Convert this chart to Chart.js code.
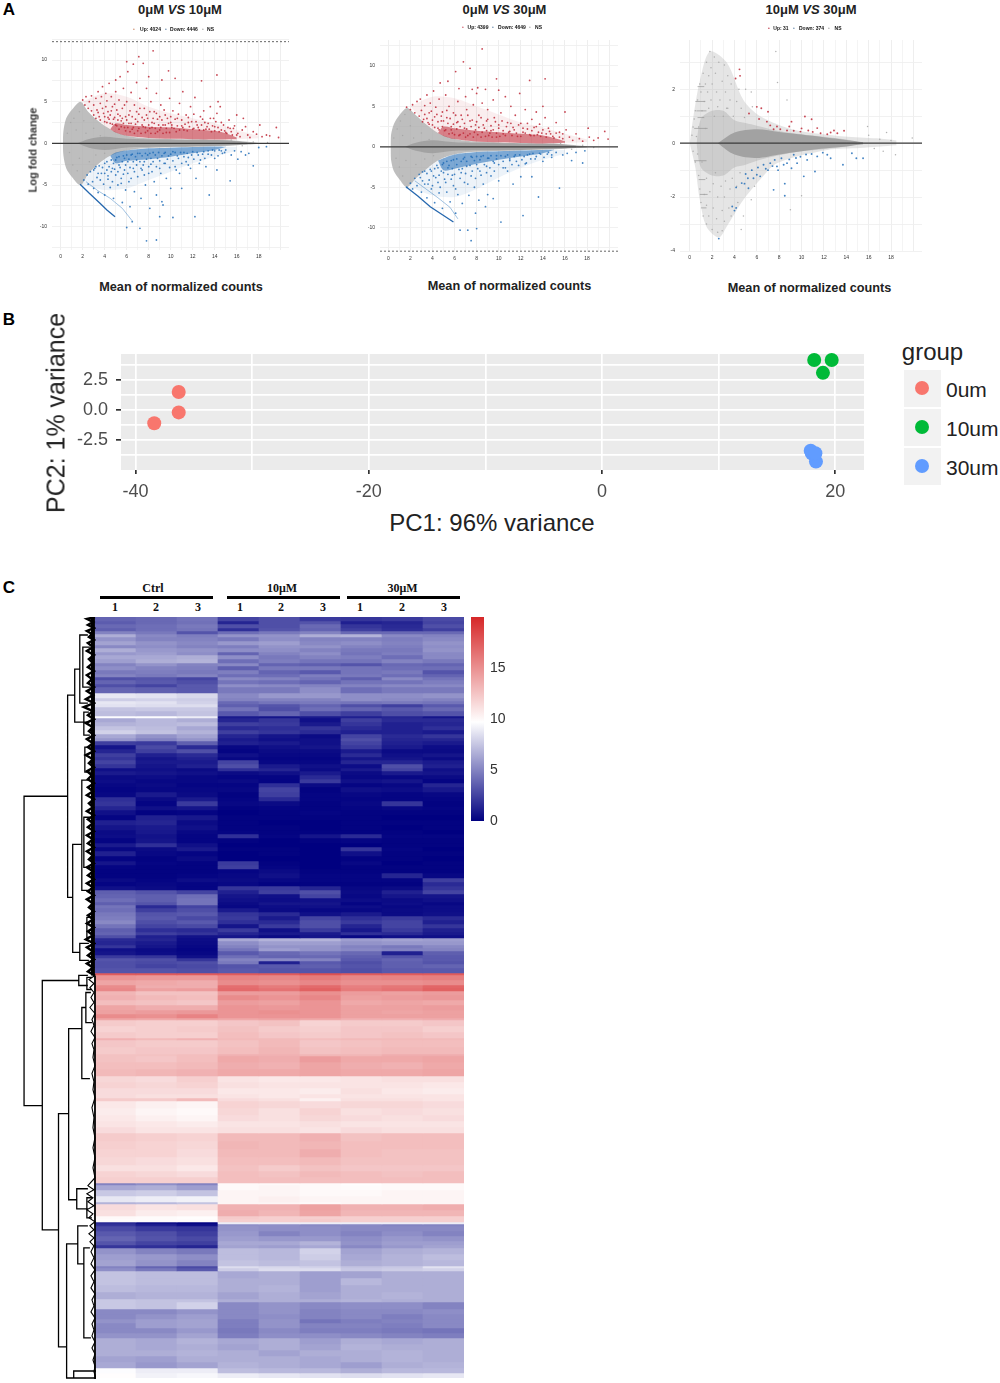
<!DOCTYPE html>
<html><head><meta charset="utf-8">
<script src="https://cdn.jsdelivr.net/npm/chart.js@4"></script>
<style>
html,body{margin:0;padding:0;background:#fff;}
#page{position:relative;width:1000px;height:1383px;overflow:hidden;font-family:"Liberation Sans",Arial,sans-serif;}
canvas{position:absolute;}
.t{position:absolute;white-space:nowrap;transform:translate(-50%,-50%);line-height:1;}
</style></head><body><div id="page"></div>
<script>
// ---------- Panel A: MA plots (mean of normalized counts, log fold change) ----------
const a1XTicks=[0,2,4,6,8,10,12,14,16,18], a1YTicks=[-10,-5,0,5,10];
const a1GreyUpper=[[0.2,0],[0.25,1.5],[0.5,3],[1,4],[1.8,5],[2.5,3.8],[3.5,2.6],[4.5,1.7],[5.5,1.1],[7,0.7],[9,0.55],[12,0.45],[15,0.4],[17,0.2],[18,0.05]];
const a1GreyLower=[[0.2,0],[0.25,-1.5],[0.5,-3],[1,-4],[1.8,-5],[2.5,-3.7],[3.5,-2.4],[4.5,-1.5],[5.5,-1],[7,-0.65],[9,-0.5],[12,-0.4],[15,-0.3],[17,-0.15],[18,-0.05]];
const a1CoreUpper=[[1.5,0],[2.5,0.5],[4,0.8],[6,0.55],[9,0.45],[12,0.42],[15,0.35],[17,0.12]];
const a1CoreLower=[[1.5,0],[2.5,-0.5],[4,-0.8],[6,-0.5],[9,-0.42],[12,-0.35],[15,-0.25],[17,-0.1]];
const a1BandUpTop=[[4.5,1.7],[5,2.4],[6,2.2],[8,2],[10,1.9],[12,1.7],[14,1.5],[15,1.2],[16,0.7]];
const a1BandUpBot=[[4.5,1.7],[5,1.3],[6,0.9],[8,0.65],[10,0.55],[12,0.5],[14,0.45],[16,0.5]];
const a1BandDnTop=[[4.5,-1.5],[5,-1.1],[6,-0.85],[8,-0.6],[10,-0.52],[12,-0.45],[14,-0.38],[15,-0.4]];
const a1BandDnBot=[[4.5,-1.5],[5,-2.4],[6,-2.1],[8,-1.9],[10,-1.6],[12,-1.2],[14,-0.8],[15,-0.45]];
const a1HaloUpTop=[[2,5],[4,6],[6,5.6],[8,4.4],[10,3.6],[12,3],[14,2.4],[16,1.6],[18,0.9]];
const a1HaloUpBot=[[2,5],[3.5,2.7],[5,1.3],[8,0.65],[12,0.5],[16,0.5],[18,0.6]];
const a1HaloDnTop=[[2,-4.6],[3.5,-2.5],[5,-1.1],[8,-0.6],[12,-0.45],[16,-0.45]];
const a1HaloDnBot=[[2,-5],[4,-5.6],[6,-5.4],[8,-4.4],[10,-3.4],[12,-2.4],[14,-1.6],[16,-0.9]];
const a1Edge=[[1.76,-4.9],[2.6,-6],[3.57,-7.2],[4.2,-8],[4.94,-8.8]];
const a1Edge2=[[2.3,-4.6],[3.4,-5.7],[4.5,-6.6],[5.6,-7.8],[6.5,-9.3]];
const a1Up=[[2,5.2],[2.2,4.6],[2.3,5.6],[2.5,4.2],[2.6,5],[2.8,3.9],[2.8,5.7],[3,4.6],[3,3.4],[3.2,5.4],[3.3,4],[3.4,6.2],[3.5,3.2],[3.6,4.8],[3.7,5.6],[3.8,6.8],[3.9,3.6],[4,2.6],[4.1,4.4],[4.1,6],[4.2,5.1],[4.3,3.1],[4.4,7.2],[4.5,2.4],[4.6,3.9],[4.6,5.6],[4.8,2.9],[4.9,4.7],[5,7.6],[5,6.2],[5.1,2.1],[5.2,3.5],[5.3,5.2],[5.4,8],[5.5,2.7],[5.6,4.2],[5.7,6.6],[5.8,1.9],[5.9,3.2],[6,9.8],[6,5],[6.1,8.6],[6.2,2.4],[6.3,3.9],[6.4,6.1],[6.5,1.7],[6.6,9.5],[6.7,4.6],[6.8,2.9],[6.9,7.3],[7,1.5],[7.1,10.4],[7.1,3.5],[7.2,5.4],[7.4,2.2],[7.5,9.6],[7.6,4.2],[7.7,1.3],[7.8,6.6],[7.9,3],[8,8],[8.1,1.8],[8.2,5],[8.3,2.5],[8.4,11.1],[8.5,3.8],[8.6,1.2],[8.7,6],[8.8,2.9],[9,1.6],[9.1,4.6],[9.2,7.6],[9.3,2.2],[9.5,3.4],[9.6,1.3],[9.8,8.7],[9.9,5.4],[10,2.5],[10.1,1.9],[10.2,3.9],[10.4,7.8],[10.5,1.4],[10.6,3],[10.8,4.8],[11,2.1],[11.1,6.2],[11.2,1.6],[11.4,3.4],[11.6,2.5],[11.8,4.4],[12,1.7],[12.1,3.5],[12.2,5.5],[12.4,2.2],[12.6,1.6],[12.8,7.5],[12.9,2.9],[13,3.9],[13.2,1.7],[13.4,2.4],[13.6,4.4],[13.7,1.4],[13.9,3],[14,2],[14.2,8.2],[14.2,3.6],[14.3,5],[14.4,1.4],[14.5,4.4],[14.6,2.5],[14.9,1.5],[15.1,1.2],[15.3,2.8],[15.4,1.8],[15.6,1],[15.8,2.1],[16,3.4],[16.1,1.2],[16.3,0.8],[16.5,1.6],[16.6,3],[16.8,2],[17,1],[17.2,0.7],[17.5,1.4],[17.8,1.1],[18.1,2.2],[18.3,0.8],[18.7,1],[19,0.9],[19.6,1.9],[19.8,0.7],
[3.2,3],[3.4,3.7],[3.6,2.8],[3.8,4.2],[4,3.2],[4.2,2.5],[4.3,3.8],[4.4,2.9],[4.5,3.4],[4.7,2.3],[4.7,4.4],[4.9,3.1],[5,2.2],[5.1,4],[5.2,2.8],[5.3,1.7],[5.4,3.3],[5.5,2],[5.6,3],[5.7,2.4],[5.8,4.6],[5.9,1.5],[6,2.8],[6.1,1.9],[6.2,3.4],[6.3,1.4],[6.4,2.4],[6.5,3.2],[6.6,1.9],[6.7,1.2],[6.8,2.3],[6.9,3.8],[7,2.6],[7.1,1.8],[7.2,4.2],[7.3,1.2],[7.4,3.1],[7.5,2],[7.6,2.8],[7.7,1.9],[7.8,3.4],[7.9,1.5],[8,2.2],[8.1,3.8],[8.2,1.2],[8.3,1.9],[8.4,3],[8.5,2.4],[8.6,1.8],[8.7,3.6],[8.8,1.4],[8.9,2.2],[9,3.2],[9.1,1.9],[9.2,2.8],[9.3,1.2],[9.4,4],[9.5,2.2],[9.6,1.8],[9.7,3],[9.8,2.4],[9.9,1.3],[10,3.2],[10.1,2.2],[10.3,1.8],[10.4,2.9],[10.6,2.1],[10.7,3.5],[10.8,1.6],[11,2.8],[11.1,1.9],[11.3,2.3],[11.5,1.5],[11.6,3.1],[11.7,2],[11.9,2.6],[12.1,1.8],[12.3,2.6],[12.5,1.9],[12.7,3.2],[12.8,2.2],[13,1.6],[13.1,2.5],[13.3,2],[13.5,1.7],[13.6,3],[13.8,2.1],[14,1.5],[14.1,2.6],[14.3,1.9],[14.6,1.6],[14.8,2.2],[15,1.3],[15.2,1.9],[15.5,1.4],[15.7,1.8],[16,1]];
const a1Down=[[2.1,-4.4],[2.4,-3.8],[2.5,-4.9],[2.7,-3.4],[2.9,-4.6],[3,-5.4],[3.1,-3],[3.3,-4.1],[3.4,-5.9],[3.5,-2.7],[3.7,-3.6],[3.9,-4.9],[4,-2.4],[4,-6.2],[4.2,-3.2],[4.3,-4.3],[4.5,-5.3],[4.6,-2],[4.7,-3],[4.8,-6.6],[5,-3.8],[5.1,-1.7],[5.2,-5],[5.3,-2.6],[5.5,-4.2],[5.6,-7.1],[5.7,-1.5],[5.8,-3.2],[5.9,-5.6],[6,-10.1],[6.1,-2.2],[6.2,-4.6],[6.3,-7.6],[6.4,-1.4],[6.5,-9.4],[6.6,-3],[6.7,-5.8],[6.9,-2],[7,-4],[7.2,-10.2],[7.2,-1.2],[7.3,-6.6],[7.4,-3.2],[7.6,-2.2],[7.7,-5],[7.8,-11.7],[7.9,-1.4],[8,-3.6],[8.1,-7.8],[8.2,-2.5],[8.4,-1.1],[8.5,-4.6],[8.7,-11.6],[8.7,-6.2],[8.8,-1.8],[9,-8.8],[9,-3],[9.2,-7],[9.3,-7.4],[9.4,-1.2],[9.5,-2.4],[9.6,-4.2],[9.8,-1.5],[10,-5.4],[10.2,-8.9],[10.2,-1],[10.4,-2.8],[10.6,-1.5],[10.8,-3.6],[11,-5.4],[11.2,-1.1],[11.4,-2.2],[11.6,-1.7],[11.8,-3],[12,-1],[12.2,-8.8],[12.3,-4.2],[12.5,-1.4],[12.7,-2],[13,-1],[13.2,-2.8],[13.4,-1.3],[13.5,-6.2],[13.8,-0.8],[14,-1.8],[14.2,-3.2],[14.4,-0.8],[14.7,-1.2],[15,-0.8],[15.4,-4.5],[15.5,-1.4],[15.8,-0.9],[16.1,-1.9],[16.4,-1],[16.8,-1.4],[17.1,-1.2],[17.5,-2.7],[18,-0.5],[18.7,-0.4],
[3,-3.2],[3.2,-2.8],[3.4,-3.6],[3.6,-4.4],[3.8,-2.9],[4,-3.6],[4.2,-2.2],[4.3,-3.9],[4.4,-2.8],[4.6,-3.4],[4.7,-4.6],[4.8,-2.4],[4.9,-3.1],[5,-2],[5.2,-3.4],[5.3,-1.6],[5.4,-2.9],[5.5,-4.8],[5.6,-2.2],[5.7,-3.7],[5.8,-1.8],[5.9,-2.6],[6,-1.4],[6.1,-3.6],[6.2,-1.9],[6.3,-2.9],[6.4,-4.2],[6.5,-1.3],[6.6,-2.2],[6.7,-3.4],[6.8,-1.6],[6.9,-2.6],[7,-1.2],[7.2,-2.2],[7.3,-3],[7.4,-1.5],[7.5,-2.6],[7.6,-3.8],[7.7,-1.2],[7.8,-1.9],[8,-2.8],[8.1,-1.2],[8.2,-1.8],[8.3,-3.4],[8.4,-2.2],[8.6,-1.4],[8.7,-2.8],[8.9,-1.1],[9,-2.1],[9.1,-3.6],[9.2,-1.5],[9.4,-2.4],[9.5,-1.1],[9.7,-1.9],[9.9,-2.9],[10,-1.3],[10.2,-2.1],[10.4,-1.1],[10.5,-3.2],[10.7,-1.8],[10.9,-1.1],[11,-2.4],[11.2,-1.6],[11.5,-1.2],[11.6,-2.6],[11.9,-1.4],[12.1,-1.9],[12.4,-1.1],[12.6,-2.4],[12.9,-1.3],[13.1,-1.8],[13.4,-0.9],[13.7,-1.4],[14,-0.9],[14.3,-1.5],[14.6,-0.9],[14.9,-1.1]];
const a1Grey=[[0.6,1.2],[0.9,2.5],[1.2,3],[1.4,1.6],[1.7,3.8],[0.8,-1.1],[1.1,-2.6],[1.5,-3.3],[1.7,-1.8],[2.1,2.7],[2.3,1.2],[2.6,-2.2],[3,1.8],[3.2,-1.4],[3.6,0.9],[4,-1.2],[15.5,0.4],[16.5,-0.3],[17.5,0.15],[18.8,0.1]];

const a2GreyUpper=[[0.2,0],[0.25,1.5],[0.5,2.8],[1,3.9],[1.7,4.8],[2.5,3.9],[3.5,2.7],[4.5,1.7],[5.5,1.15],[7,0.75],[9,0.6],[12,0.45],[15,0.4],[17,0.2],[18,0.05]];
const a2GreyLower=[[0.2,0],[0.25,-1.6],[0.5,-3],[1,-4],[1.7,-5],[2.5,-3.9],[3.5,-2.7],[4.5,-1.7],[5.5,-1.1],[7,-0.7],[9,-0.55],[12,-0.42],[15,-0.3],[17,-0.15],[18,-0.05]];
const a2CoreUpper=[[1.5,0],[2.5,0.5],[4,0.8],[6,0.55],[9,0.48],[12,0.42],[15,0.35],[17,0.12]];
const a2CoreLower=[[1.5,0],[2.5,-0.5],[4,-0.8],[6,-0.5],[9,-0.44],[12,-0.38],[15,-0.25],[17,-0.1]];
const a2BandUpTop=[[4.5,1.7],[5,2.5],[6,2.3],[8,2],[10,1.8],[12,1.6],[14,1.4],[15,1.1],[16,0.7]];
const a2BandUpBot=[[4.5,1.7],[5,1.35],[6,0.95],[8,0.65],[10,0.55],[12,0.48],[14,0.42],[16,0.5]];
const a2BandDnTop=[[4.5,-1.7],[5,-1.4],[6,-0.95],[8,-0.65],[10,-0.55],[12,-0.45],[14,-0.38],[15,-0.36]];
const a2BandDnBot=[[4.5,-1.7],[5,-2.9],[6,-2.7],[8,-2.1],[10,-1.6],[12,-1.2],[14,-0.8],[15,-0.4]];
const a2HaloUpTop=[[2,5],[4,6.2],[6,6],[8,5],[10,4],[12,3],[14,2.4],[16,1.6],[18,0.9]];
const a2HaloUpBot=[[2,5],[3.5,2.7],[5,1.35],[8,0.65],[12,0.48],[16,0.5],[18,0.6]];
const a2HaloDnTop=[[2,-4.6],[3.5,-2.7],[5,-1.4],[8,-0.65],[12,-0.45],[16,-0.4]];
const a2HaloDnBot=[[2,-5],[4,-6],[6,-6.2],[8,-5.2],[10,-3.8],[12,-2.6],[14,-1.6],[16,-0.9]];
const a2Edge=[[1.66,-5],[2.7,-6.1],[3.8,-7.4],[4.9,-8.4],[5.9,-9.3]];
const a2Edge2=[[2.4,-4.2],[3.4,-5.2],[4.5,-6.3],[5.6,-7.5],[6.3,-8.9]];
const a2Up=[[1.66,4.9],[2,4.6],[2.2,5.2],[2.4,4.2],[2.6,5.6],[2.8,3.8],[2.9,5.9],[3,4.5],[3.2,3.4],[3.3,5.1],[3.5,6.4],[3.6,3],[3.7,4.2],[3.8,5.4],[4,2.7],[4.1,6.9],[4.2,3.7],[4.3,4.9],[4.5,2.3],[4.6,5.9],[4.7,7.9],[4.8,3.2],[4.9,4.3],[5.1,2],[5.2,6.4],[5.3,3.6],[5.4,8.1],[5.5,5],[5.7,2.5],[5.8,1.7],[5.9,4.2],[6.1,9.3],[6.2,3],[6.3,5.6],[6.4,7.2],[6.5,1.5],[6.6,3.9],[6.8,10.5],[6.9,2.3],[7,6.2],[7.1,4.6],[7.2,1.4],[7.4,9.7],[7.4,3.2],[7.6,7.1],[7.7,5.2],[7.8,1.8],[7.9,2.7],[8,6.6],[8.1,7.3],[8.2,3.9],[8.4,1.2],[8.5,12.1],[8.5,5.4],[8.7,2.3],[8.8,7.1],[8.9,3.2],[9,4.6],[9.1,1.4],[9.3,2],[9.5,5.8],[9.6,3.6],[9.8,8.4],[9.8,1.2],[10,7],[10,2.7],[10.2,4.2],[10.4,1.6],[10.6,6.2],[10.8,3],[11,1.9],[11.1,5],[11.3,2.4],[11.5,3.9],[11.7,1.3],[11.9,6.6],[12,2.9],[12.2,1.8],[12.4,4.6],[12.6,2.2],[12.8,8.2],[12.9,1.4],[13,3.4],[13.2,2.4],[13.4,4.3],[13.5,1.5],[13.7,2.8],[13.9,1.7],[14,5],[14.2,8.4],[14.2,3.6],[14.3,1.2],[14.5,2.3],[14.7,1.6],[15,1.1],[15.2,3],[15.5,1.8],[15.8,1],[16,4.3],[16.1,2.1],[16.4,1.2],[16.7,0.8],[17,1.6],[17.3,1],[17.6,0.7],[18.1,2.3],[18.2,1.2],[18.6,0.8],[19,1.1],[19.6,1.9],[19.9,0.95],
[3.1,3.1],[3.3,4],[3.5,3.5],[3.7,2.8],[3.9,4.4],[4,3.3],[4.2,2.4],[4.4,4],[4.5,3.1],[4.6,2.1],[4.8,3.8],[4.9,2.5],[5,3.2],[5.2,2.1],[5.3,4.5],[5.4,2.9],[5.5,1.6],[5.6,3.5],[5.7,2.1],[5.9,2.8],[6,1.5],[6.1,3.9],[6.2,2.2],[6.3,3.1],[6.4,1.4],[6.5,2.5],[6.7,3.4],[6.8,1.7],[6.9,2.9],[7,1.2],[7.1,2.2],[7.2,3.9],[7.4,1.6],[7.5,2.5],[7.6,3.3],[7.7,1.2],[7.9,2.1],[8,3.1],[8.1,1.5],[8.2,2.4],[8.4,3.6],[8.5,1.8],[8.6,2.7],[8.8,1.3],[8.9,2],[9,3.4],[9.2,1.7],[9.3,2.6],[9.4,1.2],[9.5,2.1],[9.7,3.1],[9.8,1.7],[10,2.3],[10.1,1.3],[10.3,3.2],[10.4,2],[10.6,1.4],[10.7,2.5],[10.9,1.8],[11.1,2.9],[11.2,1.4],[11.4,2.1],[11.6,1.7],[11.8,2.7],[12,1.3],[12.2,2.3],[12.4,1.7],[12.6,2.9],[12.8,1.5],[13,2],[13.2,1.4],[13.4,2.5],[13.6,1.8],[13.8,1.3],[14,2.1],[14.3,1.6],[14.6,1.9],[14.9,1.3],[15.2,1.7],[15.5,1.2],[15.8,1.6]];
const a2Down=[[1.66,-5],[2,-4.5],[2.2,-5.2],[2.4,-3.9],[2.6,-4.8],[2.8,-3.4],[3,-5.6],[3.1,-4.2],[3.3,-3],[3.5,-6.3],[3.6,-4.6],[3.8,-2.8],[3.9,-5.2],[4.1,-3.6],[4.2,-6.9],[4.4,-2.3],[4.5,-4.4],[4.6,-5.7],[4.8,-3],[4.9,-7.6],[5,-2],[5.1,-4],[5.3,-5.6],[5.4,-2.6],[5.6,-6.8],[5.7,-1.7],[5.8,-3.5],[5.9,-4.8],[6.1,-8.2],[6.2,-2.2],[6.3,-5.9],[6.5,-10.3],[6.6,-3.2],[6.7,-7],[6.8,-1.5],[6.9,-4.4],[7.1,-2.4],[7.2,-10.3],[7.3,-6],[7.5,-11.6],[7.5,-3.6],[7.6,-1.3],[7.8,-5],[7.9,-8.2],[8,-10.1],[8,-2.2],[8.2,-6.6],[8.3,-3],[8.4,-1.2],[8.6,-4.6],[8.8,-7.4],[8.9,-2.4],[9,-5.9],[9.1,-1.4],[9.3,-3.6],[9.5,-6.4],[9.6,-2],[9.8,-1.1],[10,-4.2],[10.2,-9.3],[10.4,-2.6],[10.6,-1.2],[10.8,-3],[11,-1.7],[11.3,-4.6],[11.5,-1],[11.8,-2.3],[12,-3.7],[12.2,-8.5],[12.3,-1.2],[12.5,-2],[12.8,-0.9],[13,-3.7],[13.3,-1.5],[13.6,-6.2],[13.7,-0.8],[14,-1.8],[14.4,-0.9],[14.8,-1.3],[15.2,-0.7],[15.5,-5.1],[15.8,-1],[16.2,-0.8],[16.6,-1.7],[17,-0.7],[17.6,-2],[17.8,-0.5],
[2.9,-3.8],[3.1,-3.1],[3.3,-4.6],[3.5,-3.3],[3.7,-4.1],[3.9,-3],[4,-4.8],[4.2,-2.7],[4.3,-3.8],[4.5,-2.6],[4.6,-3.5],[4.7,-5],[4.9,-2.2],[5,-3.2],[5.2,-4.4],[5.3,-1.8],[5.4,-3.4],[5.5,-2.3],[5.7,-4],[5.8,-2.7],[5.9,-1.6],[6,-3.4],[6.1,-5.2],[6.2,-1.5],[6.4,-2.8],[6.5,-3.9],[6.6,-1.8],[6.7,-2.7],[6.9,-1.3],[7,-3.3],[7.1,-1.8],[7.2,-4.6],[7.4,-2.3],[7.5,-1.2],[7.6,-3],[7.8,-1.7],[7.9,-3.9],[8,-1.2],[8.1,-2.7],[8.3,-1.6],[8.4,-3.5],[8.6,-1.1],[8.7,-2.2],[8.9,-3.2],[9,-1.4],[9.2,-2.6],[9.3,-1.1],[9.5,-1.8],[9.6,-3],[9.8,-1.5],[10,-2.2],[10.2,-1.1],[10.4,-1.8],[10.6,-2.6],[10.8,-1],[11,-1.5],[11.2,-2.2],[11.4,-1.2],[11.6,-1.8],[11.9,-1],[12.1,-1.6],[12.4,-2.1],[12.6,-1],[12.9,-1.5],[13.1,-0.8],[13.4,-1.2],[13.8,-0.9],[14.1,-1.3],[14.5,-0.7],[14.8,-1]];
const a2Grey=[[0.5,1.1],[0.8,2.2],[1.1,3.2],[1.3,1.4],[1.5,4],[0.7,-1.4],[1,-2.5],[1.3,-3.6],[1.6,-1.7],[2,2.6],[2.3,1.1],[2.5,-2.2],[3,1.7],[3.3,-1.5],[3.7,0.9],[4.1,-1.1],[15.6,0.4],[16.6,-0.3],[17.6,0.2],[18.6,-0.1]];

const a3GreyUpper=[[0,0],[0.33,1],[0.9,2.3],[1.8,3.4],[3.3,3],[4.8,1.6],[6.3,1],[9.3,0.5],[13.8,0.25],[16.7,0.18],[18.5,0.1]];
const a3GreyLower=[[0,0],[0.5,-0.9],[0.9,-2.1],[1.5,-3.1],[2.6,-3.5],[3.3,-3.1],[4.8,-2.1],[6.3,-1.35],[7.8,-0.74],[12.3,-0.25],[15.2,-0.18],[18.5,-0.08]];
const a3MidUpper=[[0.6,0],[1,0.9],[2,1.2],[3,1.2],[4,0.85],[5,0.75],[6,0.65],[8,0.45],[10,0.33],[12,0.24],[14,0.14],[15,0.05]];
const a3MidLower=[[0.6,0],[1,-0.9],[2,-1.2],[3,-1.2],[4,-0.9],[5,-0.8],[6,-0.65],[8,-0.45],[10,-0.3],[12,-0.22],[14,-0.12],[15,-0.05]];
const a3CoreUpper=[[2.5,0],[4,0.4],[6,0.52],[8,0.42],[10,0.32],[12,0.22],[14,0.12],[15.5,0.04]];
const a3CoreLower=[[2.5,0],[4,-0.42],[6,-0.55],[8,-0.42],[10,-0.3],[12,-0.2],[14,-0.12],[15.5,-0.04]];
const a3Up=[[4.45,2.74],[4.5,2.5],[4.1,2.4],[6,1.35],[6.4,1.3],[7,1.17],[5.3,1.1],[6.2,0.9],[6.9,0.8],[7.8,0.62],[7.5,0.52],[9.1,0.8],[10.3,0.99],[10.9,0.89],[9.3,0.46],[9.9,0.43],[10.6,0.47],[11.4,0.56],[12.3,0.33],[12.9,0.47],[13.8,0.46],[13.2,0.37],[11.7,0.37],[8.7,0.47],[8.1,0.52],[8.9,0.62],[10,0.55],[7.2,0.66],[11,0.42],[12.6,0.4]];
const a3Down=[[2.6,-3.54],[3.8,-2.35],[4.15,-2.4],[4,-2.5],[4.15,-1.64],[4.65,-1.48],[5.25,-1.67],[5,-1.14],[5.55,-1],[6,-1.17],[6.6,-0.8],[7.2,-0.74],[7.6,-0.62],[8.5,-1.5],[8.5,-1.95],[7.5,-1.73],[7.8,-0.86],[8.7,-0.74],[9.3,-0.43],[9.9,-0.5],[10.5,-0.62],[11.2,-1.05],[10.2,-1.23],[11.4,-0.49],[12.3,-0.43],[12.6,-0.56],[13.7,-0.8],[14.5,-0.37],[14.9,-0.56],[15.5,-0.56],[8.2,-0.56],[9.1,-0.93],[6.3,-1.23],[5.7,-1.3],[7,-1],[7.9,-1],[9.6,-0.74],[10.9,-0.4],[6.8,-0.95],[7.4,-0.85],[8.4,-0.8],[8.9,-0.6],[9.5,-0.55],[5.2,-1.3],[4.9,-1.5],[6.1,-0.9],[10.4,-0.42],[11.9,-0.35]];
const a3Grey=[[7.7,3.4],[7.85,2.25],[8.7,1.6],[10,-1.95],[9,-2.47],[15.9,0.62],[17.6,0.4],[18.4,-0.43],[19.9,0.19],[1.8,3.4],[2.2,3.2],[1.5,3],[1.9,2.8],[2.6,3],[3.1,2.9],[1.2,2.6],[1.7,2.5],[2.3,2.6],[3.4,2.5],[0.9,2.2],[1.4,2.2],[2,2.2],[2.9,2.3],[3.7,2.2],[4.4,2],[1,1.9],[1.6,1.9],[2.4,1.9],[3.2,1.9],[5,2],[5.5,1.9],[0.7,1.6],[1.3,1.55],[1.9,1.6],[2.7,1.6],[3.6,1.6],[4.2,1.55],[0.5,1.2],[1.1,1.2],[1.7,1.3],[2.5,1.35],[3.3,1.3],[4.6,1.3],[5.6,1.35],[0.4,0.9],[2.2,1],[3,1],[3.9,1],[4.9,0.95],[0.3,0.6],[0.8,0.6],[1.4,0.55],[0.2,0.3],[0.6,0.25],[0.3,-0.3],[0.7,-0.4],[0.5,-0.7],[1.1,-0.7],[2.3,-1.1],[3.2,-1.4],[3.8,-1.3],[4.5,-1.1],[0.8,-1.2],[1.5,-1.3],[2.1,-1.5],[2.8,-1.6],[3.6,-1.7],[4.2,-1.6],[0.9,-1.7],[1.3,-1.9],[1.8,-1.8],[2.5,-2],[3.1,-2],[4.3,-2.2],[1,-2.2],[1.5,-2.3],[2.1,-2.4],[2.9,-2.5],[3.5,-2.4],[4.8,-2.7],[1.2,-2.7],[1.7,-2.7],[2.4,-2.8],[3.1,-2.9],[3.7,-2.7],[1.5,-3],[2,-3.2],[2.5,-3.3],[2.9,-3.25],[4.6,-3.2],[5.5,-2.1],[5.8,-1.6],[3.4,1.3],[16,0.3],[16.5,-0.2],[17,0.15],[17.3,-0.3],[18,0.1]];
const a3Stripes=[[0.5,1.55],[1.4,1.55],null,[0.6,1.2],[1.5,1.2],null,[0.4,0.55],[1.6,0.55],null,[0.4,-0.65],[1.5,-0.65],null,[0.9,-1.9],[1.6,-1.9],null,[1,-2.4],[1.5,-2.4],null,[0.7,0.95],[1.3,0.95],null,[0.7,2.1],[1.3,2.1],null,[0.8,-1.35],[1.4,-1.35]];

// ---------- Panel B: PCA ----------
const pcaGroups=["0um","10um","30um"];
const pcaColors=["#F8766D","#00BA38","#619CFF"];
const pca0um=[[-36.3,1.5],[-36.3,-0.2],[-38.4,-1.1]];
const pca10um=[[18.2,4.17],[19.7,4.17],[18.95,3.1]];
const pca30um=[[17.9,-3.4],[18.2,-3.75],[18.35,-4.3],[18,-3.6],[18.3,-3.6]];
const pcaXTicks=[-40,-30,-20,-10,0,10,20];
const pcaYTicks=[-3.75,-2.5,-1.25,0,1.25,2.5,3.75];
const pcaYLabels={"-2.5":"-2.5","0":"0.0","2.5":"2.5"};

// ---------- Panel C: heatmap (band height, then Ctrl1-3, 10uM1-3, 30uM1-3) ----------
const heatSamples=["Ctrl1","Ctrl2","Ctrl3","10-1","10-2","10-3","30-1","30-2","30-3"];
const heatBandsUpper=[
[4,3.8,4,4.4,2.6,3,2.2,2,2.2,2.8],[3,3.5,4,4.3,1.4,3,3.2,1.2,1.4,2.6],[4,4,4.2,4.6,3,3,4,2,1.6,3],[3,3.6,4.2,4.4,1.8,3.2,3.8,2.4,1.8,2.4],[3,5,4.6,3.2,4.2,4.6,5,4,4,4],[3,6.6,5.2,4.8,5.6,5.6,6.6,6.8,5.2,5],[4,5.6,5,5,4.6,5.4,5,5,4.8,5.2],[4,6.2,5.6,5.2,5.8,6,5.2,5.4,5,5.6],[3,5.2,5.4,5,4.8,5.6,5.6,5,4.8,5.4],[4,6.6,5.8,5.6,5.4,5.4,5,4.6,4.6,5.6],
[3,5.8,6,5.4,3.8,5,5.4,4.4,4.8,5.2],[4,6.4,6.4,6.6,5.4,4.6,5,4.8,4.2,5.2],[4,6,6.6,6.8,4.2,4.8,4.4,4.4,5,4.6],[3,5,5.6,5,5.2,3.8,3.6,3.2,4,3.8],[4,5.4,5,4.8,3.6,4.6,4.6,4.4,4.2,4.2],[4,4.6,4.8,4.6,4.8,3.8,3.4,4.4,4.6,3.2],[3,5,4.6,5,4.2,4.2,4.8,4.6,4.2,3.8],[3,3,3.2,2.6,5.2,5,4.4,3.6,5.2,4.4],[4,3.8,3.4,3,4.4,4.2,3.8,4.4,4.4,4.8],[3,3,2.6,3.4,5.4,5.2,5,5,5.2,5.2],
[6,3.8,3.6,3.4,4.6,4.6,5.4,4.2,4.6,4.6],[5,8.8,8.6,8.2,5.2,5.8,5.8,5.4,5.4,5.6],[3,7.8,8,7.8,5,5,5,5.4,5.2,5],[3,8.8,8.6,8,4,4.4,4.6,4.4,4.6,4.4],[3,8.6,8.4,8.4,3.6,3.2,3.8,3,2.4,3.4],[4,7.4,7.6,7.6,4.4,3,4.2,3.8,3.4,4],[5,7.2,7,7.4,3.4,3.8,3,2.4,3,3.2],[2,9.6,9.6,9,1,0.8,1,1.2,1.4,0.8],[4,6.4,7,6.6,1.4,2,0.6,2.4,1.6,1.6],[4,6.8,7,7.2,2.4,2.2,1,2,1.2,1.4],
[4,7.4,7.2,6.4,1.6,1.8,2,1.6,1.2,1.8],[4,8,7.4,6.8,2.4,2,1.6,1.2,1.2,1],[4,6.4,5.6,6.2,1.4,0.8,0.4,2.6,1.6,2],[3,5.8,5,5.6,1,0.6,0.6,3,1.4,1.4],[4,2.4,2.2,3.6,1.2,1,0.6,2.6,1.2,1],[4,0.8,2.8,1.6,0.3,0.6,0.8,2.2,1,0.5],[4,1.4,2.4,3,0.2,0.4,0.4,1,0.4,0.4],[4,2.4,1.2,1.6,0.6,0.3,0.3,1.6,0.6,0.8],[3,2,0.8,1.2,0.3,0.2,0.2,0.8,0.8,0.4],[4,2.6,1,1,2.6,0.3,0.3,1.4,1.4,1],
[4,2,0.8,1.2,3,1,0.6,0.5,3,1.2],[3,0.6,0.6,0.4,1.8,1.4,0.4,1,2.6,0.6],[4,1,0.8,0.6,0.4,0.6,1,0.4,1,0.8],[4,0.4,0.5,0.3,0.2,0.2,1.6,0.3,0.3,0.4],[4,0.5,0.3,0.3,0.4,0.2,2.2,0.6,0.8,0.2],[4,0.3,0.4,0.2,0.2,1.8,0.4,0.2,0.3,1.4],[5,0.2,0.3,0.3,0.3,2.6,0.1,0.6,0.5,0.9],[5,0.3,1,0.4,0.1,2.4,0.2,0.3,0.2,0.3],[4,1.8,0.4,1,0.2,1.6,0.2,0.2,0.2,0.2],[5,2,0.2,2.2,0.3,0.4,0.1,0.3,2,0.1],
[4,1.4,0.6,0.8,0.1,0.2,0.1,0.2,0.3,0.2],[5,0.6,0.1,0.2,0,0.1,0.2,0.1,0.1,0.1],[5,0.2,1.2,0.9,0.1,0.1,0.1,0.1,0,0],[5,1.2,1.4,0.4,0.1,0,0,0.1,0.1,0.1],[5,0.8,1,0.6,0.1,0.1,0,0.1,0,0.1],[4,0.4,0.9,0.3,0.2,0.1,0.1,0.1,0.1,0],[4,0.5,0.7,0.2,1.8,0.2,0.8,1.6,0.2,0.2],[5,0.2,0.8,0.2,0.1,0,0.1,0.2,0.1,0.1],[4,1,1.8,0.6,0,0,0,0,0.1,0.1],[4,0.3,0.4,1,0.1,0.1,0,2,0.2,0],
[5,1.2,0.3,0.2,0,0.1,0,0.6,0.1,0.1],[5,0.2,0.1,0.4,0,0,0,0.1,0.1,0],[4,0.8,0.2,0.1,2.2,0.1,0,0.3,0,0.1],[4,0.2,0.1,0.1,2.4,0.2,0,0.1,0.1,0.1],[4,0.1,0.1,0.1,0.2,0.4,0.1,0.1,0.1,0.1],[5,0.1,0.1,0.2,0.3,0.6,0.2,0.2,1.4,0.3],[4,0.4,0.2,0.5,0.4,0.3,0.2,0.2,0.2,2.4],[4,0.2,0.3,0.2,0.3,0.1,0.1,0.1,0.1,1.6],[4,0.6,0.4,0.2,2,2.2,1.4,0.3,0.4,2],[4,3.6,3.2,2.6,1.2,2.4,3,0.4,1.2,2.6],
[4,3.8,3.6,4.2,0.8,0.6,2.6,0.3,0.8,0.8],[4,4.2,3.6,4.4,0.6,0.5,0.6,0.5,0.4,0.6],[3,3.6,3.2,4.4,0.4,0.8,0.8,0.2,0.5,0.3],[3,4.4,1.6,2.6,0.3,0.5,0.6,0.5,0.3,0.5],[4,4.2,2.4,3,1,0.4,0.3,0.3,0.4,0.5],[4,4.6,3.2,3.4,2,1.6,0.6,1,0.4,0.6],[4,4.8,3.4,2.8,2.2,1,2.6,1.8,2.2,1.6],[4,5.2,3,3.4,1.8,1.6,3,2.2,2.6,1.2],[4,4.4,2.6,2.8,0.8,2.2,3,1.4,2.6,2],[4,3.6,1.8,1.6,2.2,0.6,2.2,0.9,2.2,1.2],
[3,3.8,2.4,2,1.4,1,1,1.8,1.6,1],[3,3,1.2,0.7,0.8,0.4,0.8,0.3,0.6,0.6],[3,1.6,1.4,0.5,6.4,6.8,6.8,6,6.2,6],[4,1.4,1,0.4,5.4,6,6,5.6,5.8,5.8],[3,2,0.8,0.3,5,5.6,5.6,5,4.6,5.2],[3,0.6,0.4,0.2,4.4,6,5.6,5.2,5,5],[4,0.8,0.5,0.3,3.4,4,4.4,4,1.2,3.6],[3,2.2,2,0.6,4.2,3.8,4,3.6,3.2,3.4],[3,3.2,3,2,5,5.2,5,3.4,3.8,3.4],[3,3,2.8,3,4.6,1.2,3.4,3,3.6,3.2],
[4,3,2.6,2.8,3.2,3.4,3.6,3.2,3.6,3.8],[5,3.2,3.2,3,3.4,3.2,3.2,3,3.4,3.4]];
const heatBandsLower=[
[2,17.5,17.5,17.5,17.5,17.5,18,17.5,17.5,17.5],[5,14.8,14.6,14.6,15.6,15.4,16,15.4,15.6,15.8],[5,14,13.8,13.6,15.2,15,15.4,15,15,15.2],[3,15.2,13.6,13.6,16.6,16,16.8,15.8,16.2,17],[3,15.4,14.2,14.4,16.8,16.4,17.2,16,16.4,17.2],[4,13.2,12.6,12.6,14.4,14.4,15,14.4,14.2,14.4],[5,13.4,13,12.8,15.2,14.8,15.4,14.2,14.4,14.6],[5,12.8,12.6,12.4,14.4,14.2,14.8,13.8,14,13.8],[5,14,13.6,13.6,14.8,14.6,14.8,14.2,14.2,14.4],[4,14.2,14.4,14.6,14.8,15,14.8,14.2,14,14.2],
[4,15.2,15,15.6,14.8,14.8,14.8,14.2,14.2,14.2],[2,14,13.8,14,13.8,14,13.8,13.4,13.4,13.6],[6,12.2,12,12,12.4,12.6,11.8,12.2,12.2,12.4],[6,11.8,12,12.2,12.6,12.2,12,12.4,12.4,12],[6,12.2,12,12,12.8,12.4,12.2,12.4,12.6,12.4],[2,13.4,13,13.4,13,13,12.8,13,13,13],[7,12.4,12.2,12.2,12.6,13,12.4,12.6,12.8,12.8],[7,12.2,12.4,12.4,12.8,13.2,12.6,12.8,13,13],[2,12.6,12.6,12.8,13.4,13.4,13.2,13.2,13.6,13.6],[6,12.6,12.4,12.8,13.8,13.6,14.4,13.8,13.8,14],
[7,12.8,12.8,13,13.6,13.4,14,13.6,13.4,13.8],[7,13,13.2,13.4,13.8,13.8,14,13.8,13.8,14],[6,11.6,11.4,12,11,10.8,10.8,11,11.2,11.2],[6,11.8,11.6,11.8,11.2,11,11,11,11,10.8],[6,11.4,11.4,11.4,10.8,10.8,10.6,11.2,10.8,10.6],[4,11.4,11.2,11.2,11,10.8,11,11,11,11],[3,12.2,12.2,13,11.4,11.2,10.4,11.2,11.2,11],[7,10.8,10.4,10.2,11.8,11.6,11.4,11.6,11.6,11.4],[7,10.6,10.2,10,11.6,11.2,11.8,11.2,11.4,11.2],[6,10.8,10.4,10.2,11.4,11.2,11.6,11.4,11.2,11.4],
[6,11,10.8,10.6,11,11,11.2,11,11,11],[6,11.4,11,11,11.2,11.2,11,11.4,11.2,11.2],[8,12.2,12,11.8,13,13,13.4,12.6,12.8,12.8],[8,12,11.8,11.6,13.2,13,13.2,12.8,12.8,12.8],[8,11.8,11.8,11.4,13,13,13.6,12.8,12.6,12.6],[8,11.6,11.4,11.2,12.8,12.8,13,12.6,12.6,12.6],[6,11.2,11.2,10.8,12.6,12.2,12.6,12.4,12.4,12.4],[6,11.8,11.6,11.4,12.8,12.6,13,12.8,12.6,12.8],[6,12,12,12,12.8,12.8,12.8,12.8,12.8,12.8],[2,5,5.4,5,10,10,10,9.8,10,10],
[5,6.4,6.6,6,10,10.2,10,9.9,10,10],[6,7.6,7.8,7.4,10.2,10.2,10,10,10.2,10.2],[6,8.8,9,9.2,10.2,10.4,10.2,10.2,10.2,10.2],[2,6.8,7,7.4,10.2,10.2,10,10.2,10.2,10.2],[6,11.4,11,11.2,13.4,13.4,14.2,13.4,13.4,13.6],[6,11.2,10.6,10.4,13.6,13.2,14,13.2,13.2,13.2],[3,10,9.9,9.8,12.2,12,12,12,12,12],[3,9.9,9.9,9.9,12,12,12.2,12,12,12],[2,1.6,0.6,0.2,9,9,9,9,9,9],[2,2,1.2,0.6,5.4,5.4,5.2,5.2,5,5],
[5,2.8,2.2,2,5.6,5.4,5.4,5.2,5.2,5.2],[5,3.4,3,2.4,5.8,5,5.4,5,5.4,5],[5,3.8,3.2,2.8,6,5.8,5.8,5.4,5.8,5.6],[4,3.2,2.6,2.4,6.4,6.4,6.8,5.6,6,6],[3,2,1.8,1.4,6.2,6,6.4,5.2,5.8,6.2],[6,5.6,5,4.6,7.2,7,8,6.2,6.6,6.8],[6,6,5.8,5.4,7.2,7,7.8,6.4,6.8,7.2],[6,6.2,5.6,5,7.4,7.2,7.4,6.6,6.8,7],[2,5,3.8,2.8,8.4,8.2,8,7.4,7.6,8.6],[3,5.4,4.6,3.4,7.8,8.4,8.4,7.6,7.8,8],
[7,7.4,7.2,7.2,6.4,6.6,6,6.2,6.6,6.6],[7,7.4,7.2,7.2,6.6,6.6,6,7,6.6,6.6],[7,7.2,7,7,6.6,6.8,6,6.6,6.6,6.6],[7,6.6,6.8,6.8,6.2,6.6,6.2,6.6,6.8,6.6],[3,7.6,7.4,7.4,6.6,6.6,6.6,6.8,6.6,6.6],[7,7.6,7.4,8,5.2,5.6,5.2,5.4,5.4,5],[5,5.2,5.2,5.6,5.2,5.6,5,5.2,5.2,5.4],[5,5.2,5.6,6,5.2,5.4,5,5.2,4.8,5.2],[4,5.6,6,6.2,4.8,5.6,4.4,4.8,5,5.2],[5,5.2,6,6.2,4.8,5.6,5,5,4.8,5.2],
[5,5.2,5.2,5.8,4.6,5.2,4.8,4.8,4.6,4.4],[5,5.6,5.6,6.2,4.8,5.4,5.4,5.2,5,4.8],[6,6.6,6.4,6.8,6.4,6.6,6,6.6,6.4,6.6],[6,6.6,6.4,6.6,6.2,6.6,6.2,6.8,6.6,6.6],[6,6.6,6.6,6.8,6.6,6.2,6.6,6.6,6.8,6.6],[6,6.2,6,6.6,6.6,6.6,6.4,6.6,6.8,6.6],[6,6.4,5.8,6.2,6.8,6.6,6.4,6,6.6,6.8],[5,9.6,9,9,7.2,7,7,6.6,7,7],[5,9.8,9.2,9.4,9,8.8,8.6,8.4,8.6,8.8]];
const colorTicks=[0,5,10,15];
// dendrogram nodes: [height, rowTop, childHeightTop, rowBottom, childHeightBottom]
const dendroNodes=[[71,179,28,488,53],[28,78,21,280,23],[21,52,16,105,8],[16,18,8,86,8],[23,227,14,335,16],[14,163,6,273,6],[16,326,7,343,7],[53,363,17,612,37],[17,358,8,368,8],[37,496,27,729,29],[27,411,14,582,19],[14,390,10,461,6],[19,571,8,591,8],[29,626,18,760,0],[18,608,8,646,12],[12,630,6,720,5],[22,753,0,760,0],[10,375,5,405,4],[13,30,6,70,5],[11,130,5,155,5],[12,200,6,250,5],[12,95,7,118,6],[9,300,5,320,4],[9,580,4,600,4],[9,360,4,372,4]];
const dendroCombUpper=[[1,0],[9,2],[3,5],[8,8],[2,11],[9,14],[4,17],[7,20],[2,23],[8,26],[3,30],[9,34],[2,38],[7,42],[3,46],[8,50],[2,54],[9,58],[4,62],[8,66],[2,70],[9,74],[3,78],[10,82],[2,86],[12,90],[3,94],[8,98],[2,102],[10,106],[3,110],[7,114],[2,118],[9,122],[3,126],[8,130],[2,134],[10,138],[3,142],[7,146],[2,150],[9,154],[4,158],[8,162],[2,166],[8,170],[3,174],[9,178],[2,182],[7,186],[3,190],[9,194],[2,198],[8,202],[3,206],[8,210],[2,214],[9,218],[3,222],[8,226],[2,230],[9,234],[3,238],[7,242],[2,246],[9,250],[3,254],[8,258],[2,262],[9,266],[3,270],[8,274],[2,278],[9,282],[3,286],[7,290],[2,294],[8,298],[3,302],[9,306],[2,310],[8,314],[3,318],[10,322],[2,326],[9,330],[3,334],[8,338],[2,342],[9,346],[3,350],[8,354],[1,358]];
const dendroCombLower=[[1,358],[7,362],[2,366],[6,370],[2,375],[5,380],[2,385],[6,390],[1,396],[4,402],[2,408],[5,414],[1,420],[4,426],[2,432],[3,440],[1,448],[4,456],[2,464],[3,472],[1,480],[4,490],[2,500],[3,510],[1,520],[3,530],[1,540],[3,550],[1,560],[8,568],[2,572],[9,576],[3,580],[8,584],[2,588],[9,592],[3,596],[7,600],[1,604],[6,608],[2,612],[7,616],[2,620],[6,624],[2,628],[5,634],[2,640],[5,646],[1,652],[5,658],[2,664],[5,670],[1,676],[4,682],[2,688],[5,694],[1,700],[4,706],[2,712],[4,718],[1,724],[4,730],[1,736],[3,742],[1,748],[2,754],[0,760]];

// ---------- helpers ----------
const page=document.getElementById('page');
Chart.defaults.animation=false;
Chart.defaults.font.family='"Liberation Sans",Arial,sans-serif';
function label(html,x,y,css){const d=document.createElement('div');d.className='t';d.innerHTML=html;d.style.left=x+'px';d.style.top=y+'px';Object.assign(d.style,css||{});page.appendChild(d);return d;}
function mkCanvas(l,t,w,h){const c=document.createElement('canvas');c.width=w;c.height=h;c.style.left=l+'px';c.style.top=t+'px';c.style.width=w+'px';c.style.height=h+'px';page.appendChild(c);return c;}
const xy=a=>a.map(p=>p?({x:p[0],y:p[1]}):({x:null,y:null}));
const noPlug={legend:{display:false},tooltip:{enabled:false},title:{display:false}};
const eachTick=(a,b,s)=>{const o=[];for(let v=a;v<=b+1e-9;v+=s)o.push({value:+v.toFixed(3)});return o;};
const fixH=h=>s=>{s.height=h;s.paddingLeft=0;s.paddingRight=0;s.paddingTop=0;s.paddingBottom=0;};
const fixW=w=>s=>{s.width=w;s.paddingLeft=0;s.paddingRight=0;s.paddingTop=0;s.paddingBottom=0;};

function band(upper,lower,color,order){return [
 {data:xy(upper),showLine:true,pointRadius:0,borderWidth:0,borderColor:'transparent',fill:'+1',backgroundColor:color,order:order,tension:0.3},
 {data:xy(lower),showLine:true,pointRadius:0,borderWidth:0,borderColor:'transparent',fill:false,order:order,tension:0.3}];}
function dots(a,color,r,order){return {data:xy(a),pointRadius:r,pointBorderWidth:0,pointBackgroundColor:color,showLine:false,order:order};}
function line(a,color,w,order,dash){return {data:xy(a),showLine:true,pointRadius:0,borderColor:color,borderWidth:w,borderDash:dash||[],fill:false,order:order,spanGaps:false};}

function maChart(o){
 const c=mkCanvas(o.box.l-22,o.box.t-11,o.box.r-o.box.l+33,o.box.b-o.box.t+11+17);
 const sets=[...band(o.grey[0],o.grey[1],o.greyFill,9),...(o.mid?band(o.mid[0],o.mid[1],'rgba(165,165,165,0.38)',8):[]),...band(o.core[0],o.core[1],'rgba(160,160,160,0.95)',7)];
 if(o.haloUp) sets.push(...band(o.haloUp[0],o.haloUp[1],'rgba(200,70,80,0.09)',6));
 if(o.haloDn) sets.push(...band(o.haloDn[0],o.haloDn[1],'rgba(50,120,190,0.09)',6));
 if(o.bandUp) sets.push(...band(o.bandUp[0],o.bandUp[1],'rgba(188,35,50,0.55)',6));
 if(o.bandDn) sets.push(...band(o.bandDn[0],o.bandDn[1],'rgba(30,105,180,0.55)',6));
 sets.push(dots(o.greyPts,'rgba(165,165,165,0.85)',0.75,5));
 if(o.stripes) sets.push(line(o.stripes,'rgba(130,130,130,0.7)',0.8,5));
 sets.push(dots(o.up,'rgba(190,40,55,0.85)',o.r||0.9,4));
 sets.push(dots(o.down,'rgba(35,110,185,0.85)',o.r||0.9,4));
 if(o.edge) sets.push(line(o.edge,'rgba(25,95,170,0.95)',1.3,3));
 if(o.edge2) sets.push(line(o.edge2,'rgba(40,115,185,0.55)',0.8,3));
 sets.push(line([[o.x[0],0],[o.x[1],0]],'#3a3a3a',1.2,1));
 if(o.dash!==undefined) sets.push(line([[o.x[0],o.dash],[o.x[1],o.dash]],'#555',0.9,1,[2,2]));
 new Chart(c,{type:'scatter',data:{datasets:sets},options:{responsive:false,devicePixelRatio:1,
  layout:{padding:{top:11,right:11,left:0,bottom:0}},plugins:noPlug,
  scales:{
   x:{type:'linear',min:o.x[0],max:o.x[1],afterBuildTicks:s=>{s.ticks=eachTick(0,20,1);},afterFit:fixH(17),
      grid:{color:ct=>ct.tick&&ct.tick.value%2===0?'#ececec':'#f3f3f3',lineWidth:0.9,drawTicks:false},border:{display:false},
      ticks:{autoSkip:false,maxRotation:0,padding:4,font:{size:5},color:'#333',callback:v=>o.xTicks.includes(v)?String(v):''}},
   y:{type:'linear',min:o.y[0],max:o.y[1],afterBuildTicks:s=>{s.ticks=eachTick(o.yGrid[0],o.yGrid[1],o.yGrid[2]);},afterFit:fixW(22),
      grid:{color:'#efefef',lineWidth:0.9,drawTicks:false},border:{display:false},
      ticks:{autoSkip:false,padding:5,font:{size:5},color:'#333',callback:v=>o.yTicks.includes(v)?String(v):''}}
  }}});
}

// ---------- panel A ----------
maChart({box:{l:52,r:289,t:40,b:250},x:[-0.79,20.75],y:[-12.8,12.4],dash:12.2,xTicks:a1XTicks,yTicks:a1YTicks,yGrid:[-12.5,12.5,2.5],
 grey:[a1GreyUpper,a1GreyLower],greyFill:'rgba(172,172,172,0.78)',core:[a1CoreUpper,a1CoreLower],bandUp:[a1BandUpTop,a1BandUpBot],bandDn:[a1BandDnTop,a1BandDnBot],
 haloUp:[a1HaloUpTop,a1HaloUpBot],haloDn:[a1HaloDnTop,a1HaloDnBot],greyPts:a1Grey,up:a1Up,down:a1Down,edge:a1Edge,edge2:a1Edge2});
maChart({box:{l:380,r:618,t:40,b:252},x:[-0.75,20.8],y:[-13,13.2],dash:-12.9,xTicks:a1XTicks,yTicks:a1YTicks,yGrid:[-12.5,12.5,2.5],
 grey:[a2GreyUpper,a2GreyLower],greyFill:'rgba(172,172,172,0.78)',core:[a2CoreUpper,a2CoreLower],bandUp:[a2BandUpTop,a2BandUpBot],bandDn:[a2BandDnTop,a2BandDnBot],
 haloUp:[a2HaloUpTop,a2HaloUpBot],haloDn:[a2HaloDnTop,a2HaloDnBot],greyPts:a2Grey,up:a2Up,down:a2Down,edge:a2Edge,edge2:a2Edge2});
maChart({box:{l:680,r:922,t:40,b:251},x:[-0.87,20.77],y:[-4,3.83],xTicks:a1XTicks,yTicks:[-4,-2,0,2],yGrid:[-4,3,1],
 grey:[a3GreyUpper,a3GreyLower],greyFill:'rgba(175,175,175,0.32)',mid:[a3MidUpper,a3MidLower],core:[a3CoreUpper,a3CoreLower],
 greyPts:a3Grey,stripes:a3Stripes,up:a3Up,down:a3Down,r:0.95});

const bold={fontWeight:'bold',color:'#111'};
label('A',9,9,{fontWeight:'bold',fontSize:'17px',color:'#000'});
label('B',9,319,{fontWeight:'bold',fontSize:'17px',color:'#000'});
label('C',9,587,{fontWeight:'bold',fontSize:'17px',color:'#000'});
label('0μM <i>VS</i> 10μM',180,9,{...bold,fontSize:'13px',color:'#222'});
label('0μM <i>VS</i> 30μM',504.5,9,{...bold,fontSize:'13px',color:'#222'});
label('10μM <i>VS</i> 30μM',811,9,{...bold,fontSize:'13px',color:'#222'});
label('Mean of normalized counts',181,287,{...bold,fontSize:'12.7px',color:'#222'});
label('Mean of normalized counts',509.5,286,{...bold,fontSize:'12.7px',color:'#222'});
label('Mean of normalized counts',809.5,288,{...bold,fontSize:'12.7px',color:'#222'});
label('Log fold change',33,149.5,{fontSize:'11px',fontWeight:'bold',color:'#333',transform:'translate(-50%,-50%) rotate(-90deg)'});
function legendRow(y,items){items.forEach(it=>{
  label('•',it[0],y,{fontSize:'5px',color:it[1]});
  label(it[2],it[3],y,{fontSize:'5px',color:'#111',fontWeight:'bold'});
});}
legendRow(28.5,[[134,'#c86',"Up: 4024",150.5],[166,'#68a',"Down: 4446",184],[203,'#aaa',"NS",210.5]]);
legendRow(27,[[463,'#c56',"Up: 4399",478],[493,'#68a',"Down: 4649",512],[530,'#aaa',"NS",538.5]]);
legendRow(28,[[769,'#b34',"Up: 31",781],[794,'#68a',"Down: 374",811.5],[829,'#aaa',"NS",838]]);

// ---------- panel B ----------
(function(){
 const c=mkCanvas(60,340,820,160);
 const bg={id:'bg',beforeDraw(ch){const a=ch.chartArea;ch.ctx.save();ch.ctx.fillStyle='#EBEBEB';ch.ctx.fillRect(a.left,a.top,a.width,a.height);ch.ctx.restore();}};
 const mk=(a,i)=>({label:pcaGroups[i],data:xy(a),pointRadius:7,pointBorderWidth:0,pointBackgroundColor:pcaColors[i]});
 new Chart(c,{type:'scatter',plugins:[bg],data:{datasets:[mk(pca0um,0),mk(pca10um,1),mk(pca30um,2)]},options:{responsive:false,devicePixelRatio:1,
  layout:{padding:{top:14,right:16,left:0,bottom:0}},plugins:noPlug,clip:false,
  scales:{
   x:{type:'linear',min:-41.25,max:22.47,afterBuildTicks:s=>{s.ticks=pcaXTicks.map(v=>({value:v}));},afterFit:fixH(30),
     grid:{color:'#fff',lineWidth:1.7,tickColor:ct=>ct.tick&&ct.tick.value%20===0?'#333':'rgba(0,0,0,0)',tickLength:4},border:{display:false},
     ticks:{autoSkip:false,maxRotation:0,padding:7,font:{size:18},color:'#4D4D4D',callback:v=>v%20===0?String(v):''}},
   y:{type:'linear',min:-5,max:4.67,afterBuildTicks:s=>{s.ticks=pcaYTicks.map(v=>({value:v}));},afterFit:fixW(61),
     grid:{color:'#fff',lineWidth:1.7,tickColor:ct=>ct.tick&&pcaYLabels[String(ct.tick.value)]?'#333':'rgba(0,0,0,0)',tickLength:5},border:{display:false},
     ticks:{autoSkip:false,padding:8,font:{size:18},color:'#4D4D4D',callback:v=>pcaYLabels[String(v)]||''}}
  }}});
})();
label('PC1: 96% variance',492,523,{fontSize:'24px',color:'#222'});
label('PC2: 1% variance',56,412.5,{fontSize:'25px',color:'#222',transform:'translate(-50%,-50%) rotate(-90deg)'});
label('group',932.5,352,{fontSize:'24px',color:'#222'});
pcaGroups.forEach((g,i)=>{
 const top=[370,409,448][i];
 const b=document.createElement('div');b.style.cssText='position:absolute;left:904px;top:'+top+'px;width:37px;height:37px;background:#F2F2F2;';page.appendChild(b);
 const d=document.createElement('div');d.style.cssText='position:absolute;left:915px;top:'+(top+11)+'px;width:14px;height:14px;border-radius:50%;background:'+pcaColors[i]+';';page.appendChild(d);
 label(g,946,top+19,{fontSize:'21px',color:'#222',transform:'translate(0,-50%)'});
});

// ---------- panel C ----------
const heatBands=[...heatBandsUpper,...heatBandsLower];
const heatTotal=heatBands.reduce((s,b)=>s+b[0],0);
function heatColor(v){
 const mix=(a,b,t)=>a.map((c,i)=>Math.round(c+(b[i]-c)*t));
 const rgb=v<=9.7?mix([0,0,128],[255,255,255],v/9.7):mix([255,255,255],[214,39,40],(v-9.7)/10.3);
 return 'rgb('+rgb.join(',')+')';
}
(function(){
 const c=mkCanvas(95,617,369,heatTotal);
 new Chart(c,{type:'bar',data:{labels:heatSamples,datasets:heatBands.map(b=>({data:heatSamples.map(()=>b[0]),backgroundColor:b.slice(1).map(heatColor),borderWidth:0,stack:'h',barPercentage:1,categoryPercentage:1}))},
  options:{responsive:false,devicePixelRatio:1,layout:{padding:0},plugins:noPlug,
   scales:{x:{display:false,stacked:true},y:{display:false,stacked:true,reverse:true,min:0,max:heatTotal}}}});
})();
(function(){
 const c=mkCanvas(20,617,76,762);
 const pts=[];
 dendroNodes.forEach(n=>{pts.push([n[2],n[1]],[n[0],n[1]],[n[0],n[3]],[n[4],n[3]],null);});
 new Chart(c,{type:'scatter',data:{datasets:[
   line(pts,'#000',1.3,2),
   line(dendroCombUpper,'#000',2.4,1),
   line(dendroCombLower,'#000',1.1,1),
   line([[3,0],[3,358]],'#000',4,1),
   line([[1,358],[1,761]],'#000',1.8,1)
  ]},options:{responsive:false,devicePixelRatio:1,layout:{padding:0},plugins:noPlug,
   scales:{x:{display:false,type:'linear',reverse:true,min:0,max:75},y:{display:false,type:'linear',reverse:true,min:0,max:761}}}});
})();
(function(){
 const c=mkCanvas(471,610,60,220);
 const grad=ctx=>{const a=ctx.chart.chartArea;if(!a)return '#888';const g=ctx.chart.ctx.createLinearGradient(0,a.bottom,0,a.top);
   g.addColorStop(0,heatColor(0));g.addColorStop(9.7/20,heatColor(9.7));g.addColorStop(1,heatColor(20));return g;};
 new Chart(c,{type:'bar',data:{labels:['value'],datasets:[{data:[[0,20]],backgroundColor:grad,borderWidth:0,barPercentage:1,categoryPercentage:1}]},
  options:{responsive:false,devicePixelRatio:1,layout:{padding:{top:7,bottom:9}},plugins:noPlug,
   scales:{x:{display:false},y:{position:'right',min:0,max:20,afterBuildTicks:s=>{s.ticks=colorTicks.map(v=>({value:v}));},afterFit:fixW(47),
     grid:{display:false,drawTicks:false},border:{display:false},ticks:{padding:6,font:{size:14},color:'#333',autoSkip:false}}}}});
})();
const serif={fontFamily:'"Liberation Serif","Times New Roman",serif',fontWeight:'bold',fontSize:'12px',color:'#111'};
label('Ctrl',153,587.5,serif);label('10μM',282,587.5,serif);label('30μM',402.5,587.5,serif);
[[100,213],[227,340],[347,460]].forEach(b=>{const d=document.createElement('div');d.style.cssText='position:absolute;background:#000;top:596px;height:3px;left:'+b[0]+'px;width:'+(b[1]-b[0])+'px;';page.appendChild(d);});
[115,156,198,240,281,323,360,402,444].forEach((x,i)=>label(String(i%3+1),x,607,serif));
</script></body></html>
